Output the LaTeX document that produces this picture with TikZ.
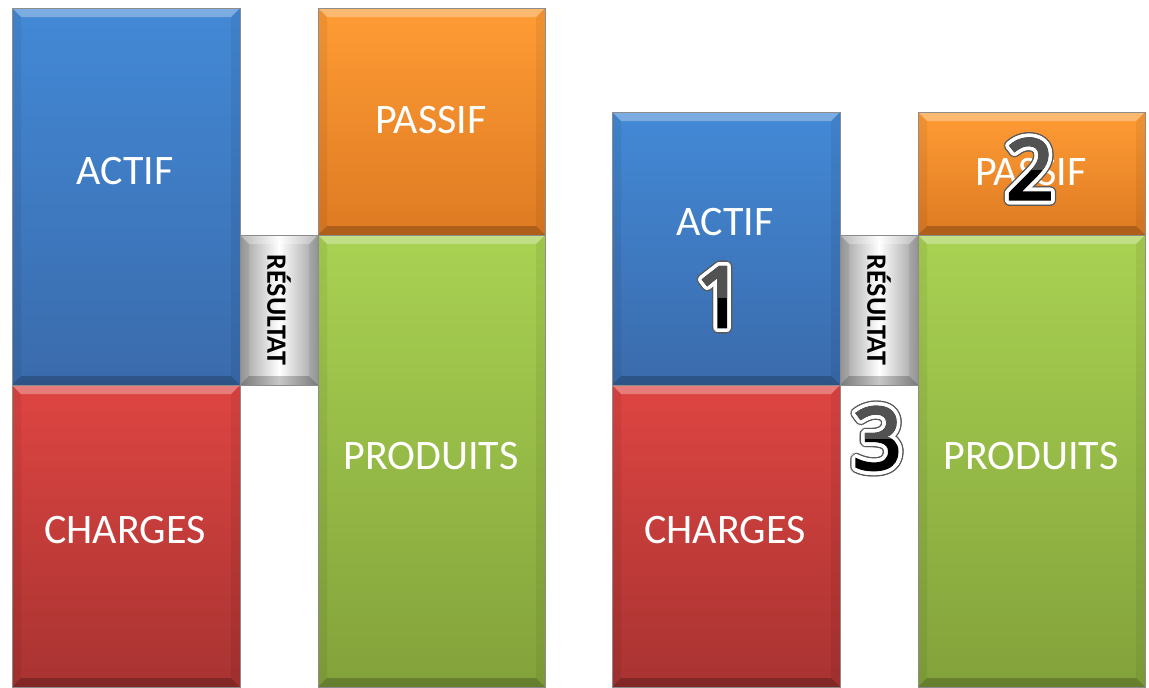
\documentclass[tikz,border=0pt]{standalone}
\usepackage{fontspec}
\setmainfont{Carlito}
\newfontfamily\numfont[FakeBold=3]{Noto Sans}
\usetikzlibrary{calc}
\definecolor{bluetop}{HTML}{4389D6}
\definecolor{bluebot}{HTML}{3A6BAC}
\definecolor{redtop}{HTML}{DE4542}
\definecolor{redbot}{HTML}{A83331}
\definecolor{orgtop}{HTML}{FF9C35}
\definecolor{orgbot}{HTML}{DE7A22}
\definecolor{grntop}{HTML}{A9D252}
\definecolor{grnbot}{HTML}{83A23B}
\definecolor{greyedge}{HTML}{9C9C9C}
\tikzset{
  bevelbox/.style={draw=black!45, line width=0.7pt, inner sep=0pt,
    path picture={
      \fill[white,opacity=.30] (path picture bounding box.north west) -- (path picture bounding box.north east)
        -- ([shift={(-9pt,-9pt)}]path picture bounding box.north east) -- ([shift={(9pt,-9pt)}]path picture bounding box.north west) -- cycle;
      \fill[black,opacity=.22] (path picture bounding box.south west) -- (path picture bounding box.south east)
        -- ([shift={(-9pt,9pt)}]path picture bounding box.south east) -- ([shift={(9pt,9pt)}]path picture bounding box.south west) -- cycle;
      \fill[black,opacity=.06] (path picture bounding box.north west) -- ([shift={(9pt,-9pt)}]path picture bounding box.north west)
        -- ([shift={(9pt,9pt)}]path picture bounding box.south west) -- (path picture bounding box.south west) -- cycle;
      \fill[black,opacity=.06] (path picture bounding box.north east) -- ([shift={(-9pt,-9pt)}]path picture bounding box.north east)
        -- ([shift={(-9pt,9pt)}]path picture bounding box.south east) -- (path picture bounding box.south east) -- cycle;
    }},
  bluebox/.style={bevelbox, top color=bluetop, bottom color=bluebot},
  redbox/.style={bevelbox, top color=redtop, bottom color=redbot},
  orgbox/.style={bevelbox, top color=orgtop, bottom color=orgbot},
  grnbox/.style={bevelbox, top color=grntop, bottom color=grnbot},
  greybox/.style={bevelbox, left color=greyedge, right color=greyedge, middle color=white},
  lbl/.style={text=white, font=\fontsize{42}{50}\selectfont, inner sep=0pt},
  reslbl/.style={text=black, font=\bfseries\fontsize{28}{32}\selectfont, rotate=-90, inner sep=0pt},
  numtxt/.style={inner sep=0pt, font=\numfont\fontsize{#1}{#1}\selectfont},
}
\newcommand\bignum[5]{% name, x, y, digit, size
  \foreach \a in {0,20,...,340}
    \node[numtxt=#5, text=black!65] at ([shift={(\a:5.2pt)}]#2,#3) {#4};
  \foreach \a in {0,20,...,340}
    \node[numtxt=#5, text=white] at ([shift={(\a:3.8pt)}]#2,#3) {#4};
  \node[numtxt=#5, text=black] (#1) at (#2,#3) {#4};
  \begin{scope}
    \clip (#2-80,#3-90) rectangle (#2+80,#3);
    \node[numtxt=#5, text=black!68] at (#2,#3) {#4};
  \end{scope}
}
\begin{document}
\begin{tikzpicture}[x=1pt,y=-1pt]
\useasboundingbox (0,0) rectangle (1149,688);
% left group
\node[bluebox, minimum width=228pt, minimum height=377pt] (actifL) at (126,196.5) {};
\node[redbox, minimum width=228pt, minimum height=302pt] (chargesL) at (126,536) {};
\node[greybox, minimum width=78pt, minimum height=150pt] (resL) at (279,310) {};
\node[orgbox, minimum width=227pt, minimum height=227pt] (passifL) at (431.5,121.5) {};
\node[grnbox, minimum width=227pt, minimum height=452pt] (produitsL) at (431.5,461) {};
\node[lbl] (tactifL) at (125,171) {ACTIF};
\node[lbl] (tchargesL) at (125,530) {CHARGES};
\node[lbl] (tpassifL) at (431,120) {PASSIF};
\node[lbl] (tproduitsL) at (431,456) {PRODUITS};
\node[reslbl] (tresL) at (279,310) {RÉSULTAT};
% right group
\node[bluebox, minimum width=228pt, minimum height=273pt] (actifR) at (726,248.5) {};
\node[redbox, minimum width=228pt, minimum height=302pt] (chargesR) at (726,536) {};
\node[greybox, minimum width=78pt, minimum height=150pt] (resR) at (879,310) {};
\node[orgbox, minimum width=227pt, minimum height=123pt] (passifR) at (1031.5,173.5) {};
\node[grnbox, minimum width=227pt, minimum height=452pt] (produitsR) at (1031.5,461) {};
\node[lbl] (tactifR) at (725,222) {ACTIF};
\node[lbl] (tchargesR) at (725,530) {CHARGES};
\node[lbl] (tpassifR) at (1031,172) {PASSIF};
\node[lbl] (tproduitsR) at (1031,456) {PRODUITS};
\node[reslbl] (tresR) at (879,310) {RÉSULTAT};
% numbers
\bignum{n1}{720}{297}{1}{84}
\bignum{n2}{1030}{169}{2}{84}
\bignum{n3}{877.5}{438.5}{3}{86}
\end{tikzpicture}
\end{document}
